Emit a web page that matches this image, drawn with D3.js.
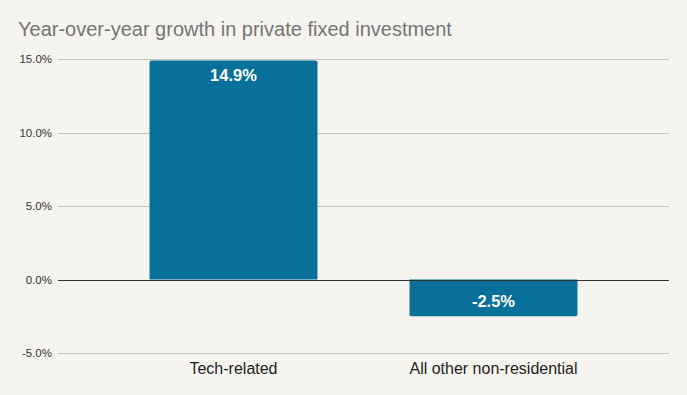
<!DOCTYPE html>
<html>
<head>
<meta charset="utf-8">
<script src="https://cdn.jsdelivr.net/npm/d3@7"></script>
<style>
  body { margin: 0; background: #f5f4ef; }
  svg { display: block; font-family: "Liberation Sans", Arial, sans-serif; }
</style>
</head>
<body>
<div id="chart"></div>
<script>
const categories = ["Tech-related", "All other non-residential"];
const growth = [14.9, -2.5];
const yTicks = [-5, 0, 5, 10, 15];

const width = 687, height = 395;
const margin = {top: 59, right: 18, bottom: 42, left: 58};

const pct = d => d3.format(".1f")(d).replace("\u2212", "-") + "%";

const svg = d3.select("#chart").append("svg")
    .attr("width", width)
    .attr("height", height);

svg.append("rect")
    .attr("width", width)
    .attr("height", height)
    .attr("fill", "#f5f4ef");

svg.append("text")
    .attr("x", 18)
    .attr("y", 36)
    .attr("font-size", 20)
    .attr("fill", "#757575")
    .text("Year-over-year growth in private fixed investment");

const x = d3.scaleBand()
    .domain(categories)
    .range([margin.left, width - margin.right])
    .paddingInner(0.354)
    .paddingOuter(0.352);

const y = d3.scaleLinear()
    .domain([-5, 15])
    .range([height - margin.bottom, margin.top]);

// gridlines + tick labels
const grid = svg.append("g");
grid.selectAll("line")
  .data(yTicks)
  .enter().append("line")
    .attr("x1", margin.left)
    .attr("x2", width - margin.right)
    .attr("y1", d => Math.round(y(d)) + 0.5)
    .attr("y2", d => Math.round(y(d)) + 0.5)
    .attr("stroke", d => d === 0 ? "#333" : "#c4c4c4")
    .attr("stroke-width", 1);

grid.selectAll("text")
  .data(yTicks)
  .enter().append("text")
    .attr("x", margin.left - 6)
    .attr("y", d => y(d) + 4)
    .attr("text-anchor", "end")
    .attr("font-size", 11.5)
    .attr("fill", "#333")
    .text(pct);

// bars (rounded on the outer end only)
const r = 2;
function barPath(d, i) {
  const x0 = x(categories[i]), x1 = x0 + x.bandwidth();
  const y0 = y(0), y1 = y(d);
  const s = d >= 0 ? 1 : -1;
  return "M" + x0 + "," + y0 +
    "V" + (y1 + s * r) +
    "Q" + x0 + "," + y1 + " " + (x0 + r) + "," + y1 +
    "H" + (x1 - r) +
    "Q" + x1 + "," + y1 + " " + x1 + "," + (y1 + s * r) +
    "V" + y0 + "Z";
}

svg.selectAll(".bar")
  .data(growth)
  .enter().append("path")
    .attr("class", "bar")
    .attr("d", barPath)
    .attr("fill", "#08709a");

// redraw zero line on top
svg.append("line")
    .attr("x1", margin.left)
    .attr("x2", width - margin.right)
    .attr("y1", Math.round(y(0)) + 0.5)
    .attr("y2", Math.round(y(0)) + 0.5)
    .attr("stroke", "#333");

svg.selectAll(".val")
  .data(growth)
  .enter().append("text")
    .attr("class", "val")
    .attr("x", (d, i) => x(categories[i]) + x.bandwidth() / 2)
    .attr("y", d => d >= 0 ? y(d) + 21 : y(0) + 27)
    .attr("text-anchor", "middle")
    .attr("font-size", 16.5)
    .attr("font-weight", "bold")
    .attr("fill", "#fff")
    .text(pct);

svg.selectAll(".cat")
  .data(categories)
  .enter().append("text")
    .attr("class", "cat")
    .attr("x", d => x(d) + x.bandwidth() / 2)
    .attr("y", height - 21)
    .attr("text-anchor", "middle")
    .attr("font-size", 16)
    .attr("fill", "#222")
    .text(d => d);
</script>
</body>
</html>
